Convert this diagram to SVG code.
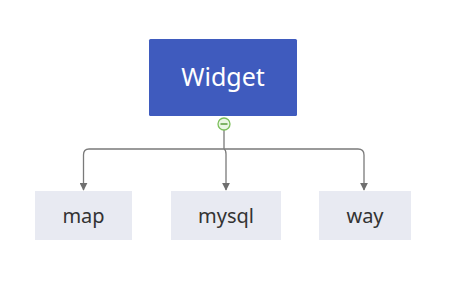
<svg xmlns="http://www.w3.org/2000/svg" width="462" height="296" viewBox="0 0 462 296">
<defs>
<style>
.leaf rect{fill:#E8EAF2;}
.leaf text{font-family:"Noto Sans","Open Sans",sans-serif;font-size:20px;fill:#333;text-anchor:middle;}
.conn{fill:none;stroke:#7a7a7a;stroke-width:1.3;}
</style>
<marker id="arr" viewBox="0 0 10 10" refX="9" refY="5" markerWidth="8" markerHeight="8" markerUnits="userSpaceOnUse" orient="auto">
<path d="M0,0 L10,5 L0,10 z" fill="#6f6f6f"/>
</marker>
</defs>
<rect width="462" height="296" fill="#fff"/>
<g id="connectors">
<path class="conn" d="M224,130 V149 M224,149 Q226,150 226,154 V190" marker-end="url(#arr)"/>
<path class="conn" d="M224,149 H89 Q83.5,149 83.5,155 V190" marker-end="url(#arr)"/>
<path class="conn" d="M224,149 H358 Q364,149 364,155 V190" marker-end="url(#arr)"/>
</g>
<g id="widget">
<rect x="149" y="39" width="148" height="77" rx="1.5" fill="#3F5BBE"/>
<text x="223" y="86" font-family="Noto Sans,Open Sans,sans-serif" font-size="25" fill="#fff" text-anchor="middle">Widget</text>
</g>
<g id="collapse">
<circle cx="224" cy="124" r="6" fill="#eaf6e4" stroke="#7cbf5b" stroke-width="1.3"/>
<line x1="220.5" y1="124" x2="227.5" y2="124" stroke="#5a9c3c" stroke-width="1.5"/>
</g>
<g id="map" class="leaf">
<rect x="35" y="191" width="97" height="49"/>
<text x="83.5" y="223">map</text>
</g>
<g id="mysql" class="leaf">
<rect x="171" y="191" width="110" height="49"/>
<text x="226" y="223">mysql</text>
</g>
<g id="way" class="leaf">
<rect x="319" y="191" width="92" height="49"/>
<text x="365" y="223">way</text>
</g>
</svg>
